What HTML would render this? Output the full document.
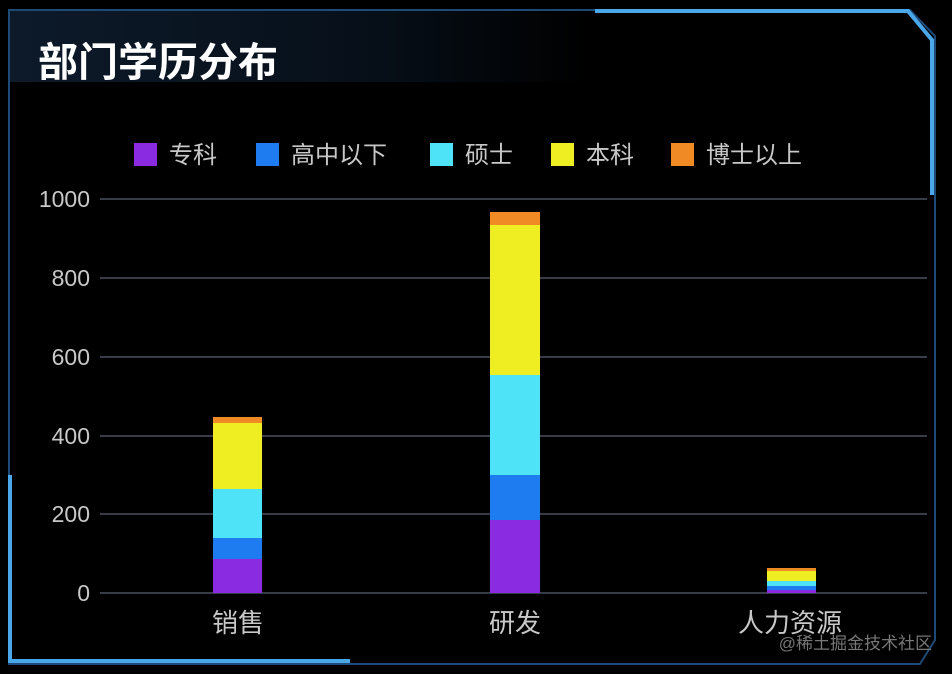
<!DOCTYPE html>
<html><head><meta charset="utf-8"><style>
html,body{margin:0;padding:0;background:#000;}
body{width:952px;height:674px;position:relative;overflow:hidden;font-family:"Liberation Sans","Noto Sans CJK SC",sans-serif;}
</style></head><body>
<svg width="952" height="674" style="position:absolute;left:0;top:0">
<defs><linearGradient id="tg" x1="0" x2="1"><stop offset="0" stop-color="#0d1a2a"/><stop offset="0.6" stop-color="#07101a"/><stop offset="1" stop-color="#000"/></linearGradient></defs>
<rect x="9" y="10" width="580" height="72" fill="url(#tg)"/>
<path d="M9 10 L910 10 L935 36 L935 640 L920 664 L9 664 Z" fill="none" stroke="#1e4a78" stroke-width="2"/>
<path d="M595 11 L908 11 L932 40 L932 195" fill="none" stroke="#4aa8ea" stroke-width="4"/>
<path d="M10 475 L10 661 L350 661" fill="none" stroke="#4aa8ea" stroke-width="4"/>
<text x="38" y="76" fill="#fff" font-size="40" font-weight="bold" font-family="'Noto Sans CJK SC',sans-serif">部门学历分布</text>
<g font-size="24" fill="#c8c8c8" font-family="'Liberation Sans','Noto Sans CJK SC',sans-serif">
<rect x="134" y="143" width="23" height="23" fill="#8a2be2"/><text x="169" y="163">专科</text>
<rect x="256" y="143" width="23" height="23" fill="#1e7cf0"/><text x="291" y="163">高中以下</text>
<rect x="430" y="143" width="23" height="23" fill="#4fe3f7"/><text x="465" y="163">硕士</text>
<rect x="551" y="143" width="23" height="23" fill="#eeee22"/><text x="586" y="163">本科</text>
<rect x="671" y="143" width="23" height="23" fill="#f08a24"/><text x="706" y="163">博士以上</text>
</g>
<g stroke="#4a5060" stroke-width="1.5">
<line x1="100" x2="927" y1="199" y2="199"/><line x1="100" x2="927" y1="278" y2="278"/>
<line x1="100" x2="927" y1="357" y2="357"/><line x1="100" x2="927" y1="436" y2="436"/>
<line x1="100" x2="927" y1="514" y2="514"/><line x1="100" x2="927" y1="593" y2="593"/>
</g>
<g font-size="23" fill="#c8c8c8" text-anchor="end">
<text x="90" y="207">1000</text><text x="90" y="286">800</text><text x="90" y="365">600</text>
<text x="90" y="444">400</text><text x="90" y="522">200</text><text x="90" y="601">0</text>
</g>
<rect x="213" y="417" width="49" height="6" fill="#f08a24"/>
<rect x="213" y="423" width="49" height="66" fill="#eeee22"/>
<rect x="213" y="489" width="49" height="49" fill="#4fe3f7"/>
<rect x="213" y="538" width="49" height="21" fill="#1e7cf0"/>
<rect x="213" y="559" width="49" height="34" fill="#8a2be2"/>
<rect x="490" y="212" width="50" height="13" fill="#f08a24"/>
<rect x="490" y="225" width="50" height="150" fill="#eeee22"/>
<rect x="490" y="375" width="50" height="100" fill="#4fe3f7"/>
<rect x="490" y="475" width="50" height="45" fill="#1e7cf0"/>
<rect x="490" y="520" width="50" height="73" fill="#8a2be2"/>
<rect x="767" y="568" width="49" height="3" fill="#f08a24"/>
<rect x="767" y="571" width="49" height="10" fill="#eeee22"/>
<rect x="767" y="581" width="49" height="5" fill="#4fe3f7"/>
<rect x="767" y="586" width="49" height="4" fill="#1e7cf0"/>
<rect x="767" y="590" width="49" height="3" fill="#8a2be2"/>
<g font-size="26" fill="#c8c8c8" text-anchor="middle">
<text x="238" y="632">销售</text><text x="515" y="632">研发</text><text x="790" y="632">人力资源</text>
</g>
<text x="932" y="649" font-size="17" fill="#777" text-anchor="end">@稀土掘金技术社区</text>
</svg>
</body></html>
